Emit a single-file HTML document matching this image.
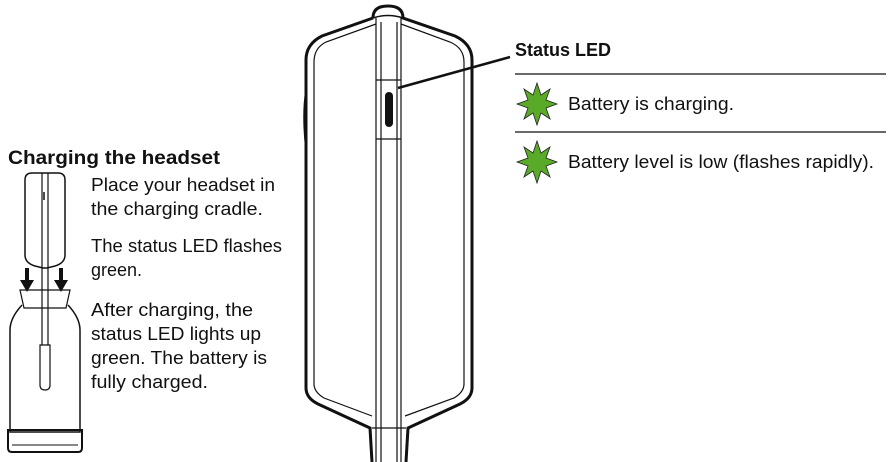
<!DOCTYPE html>
<html><head><meta charset="utf-8"><style>
html,body{margin:0;padding:0;background:#fff;width:892px;height:462px;overflow:hidden}
svg{display:block}
text{font-family:"Liberation Sans",sans-serif;fill:#111}
</style></head><body>
<svg width="892" height="462" viewBox="0 0 892 462" xmlns="http://www.w3.org/2000/svg">
<g fill="none" stroke="#111">
<path d="M373,18 Q373,6 388,6 Q403,6 403,18 L455,36 Q472,44 472,60 L472,388 Q472,398 460,404 L408,428 L406,462 M373,18 L322,36 Q306,44 306,60 L306,388 Q306,398 318,404 L370,428 L372,462" stroke-width="3"/>
<path d="M376,24 L326,42 Q314,48 314,62 L314,384 Q314,392 324,398 L372,416 M401,24 L450,42 Q464,48 464,62 L464,384 Q464,392 454,398 L405,416" stroke-width="1.2"/>
<path d="M376,18 L376,462 M381,22 L381,462 M397,22 L397,462 M401,18 L401,462" stroke-width="1.2"/>
<path d="M373,18 Q388,13 403,18" stroke-width="1.5"/>
<path d="M376,80 L401,80 M376,139 L401,139 M372,428 L406,428" stroke-width="1.2"/>
<path d="M306,90 Q302,115 306,150" stroke-width="1.5"/>
<rect x="385" y="92" width="8" height="35" rx="4" fill="#111" stroke="none"/>
<line x1="398" y1="88" x2="510" y2="57" stroke-width="2.5"/>
<line x1="515" y1="74" x2="886" y2="74" stroke-width="1.3"/>
<line x1="515" y1="132" x2="886" y2="132" stroke-width="1.3"/>
<path d="M25,180 Q25,173 32,173 L58,173 Q65,173 65,180 L65,255 Q65,263 55,266 L47,268 L43,268 L35,266 Q25,263 25,255 Z" stroke-width="1.5"/>
<path d="M42,173 L42,345 M48,173 L48,345 M40,345 L40,385 Q40,390 45,390 Q50,390 50,385 L50,345 Z" stroke-width="1.2"/>
<path d="M44,192 L44,200" stroke-width="1.5"/>
<path d="M20,290 L24,308 L66,308 L70,290 Z" stroke-width="1.2"/>
<path d="M22,305 Q10,318 10,330 L10,432 L80,432 L80,330 Q80,318 68,305" stroke-width="1.5"/>
<path d="M8,430 L82,430 L82,448 Q82,452 78,452 L12,452 Q8,452 8,448 Z" stroke-width="2"/>
<path d="M12,445 L78,445" stroke-width="1"/>
</g>
<g fill="#111">
<rect x="25" y="268" width="4" height="14"/><path d="M20,280 L34,280 L27,292 Z"/>
<rect x="59" y="268" width="4" height="14"/><path d="M54,280 L68,280 L61,292 Z"/>
</g>
<g fill="#5aaa2a" stroke="#222" stroke-width="0.8">
<path d="M537,83 L541,95 L550,89 L546,100 L557,104 L546,108 L550,119 L541,113 L537,125 L533,113 L524,119 L528,108 L517,104 L528,100 L524,89 L533,95 Z"/>
<path transform="translate(0,58)" d="M537,83 L541,95 L550,89 L546,100 L557,104 L546,108 L550,119 L541,113 L537,125 L533,113 L524,119 L528,108 L517,104 L528,100 L524,89 L533,95 Z"/>
</g>
<text x="515" y="56" font-size="18" font-weight="bold">Status LED</text>
<text x="568" y="110" font-size="18" textLength="166" lengthAdjust="spacingAndGlyphs">Battery is charging.</text>
<text x="568" y="168" font-size="18" textLength="306" lengthAdjust="spacingAndGlyphs">Battery level is low (flashes rapidly).</text>
<text x="8" y="164" font-size="19" font-weight="bold" textLength="212" lengthAdjust="spacingAndGlyphs">Charging the headset</text>
<g font-size="18">
<text x="91" y="191" textLength="184" lengthAdjust="spacingAndGlyphs">Place your headset in</text>
<text x="91" y="215" textLength="172" lengthAdjust="spacingAndGlyphs">the charging cradle.</text>
<text x="91" y="252" textLength="191" lengthAdjust="spacingAndGlyphs">The status LED flashes</text>
<text x="91" y="276">green.</text>
<text x="91" y="316" textLength="162" lengthAdjust="spacingAndGlyphs">After charging, the</text>
<text x="91" y="340" textLength="170" lengthAdjust="spacingAndGlyphs">status LED lights up</text>
<text x="91" y="364" textLength="176" lengthAdjust="spacingAndGlyphs">green. The battery is</text>
<text x="91" y="388" textLength="117" lengthAdjust="spacingAndGlyphs">fully charged.</text>
</g>
</svg>
</body></html>
